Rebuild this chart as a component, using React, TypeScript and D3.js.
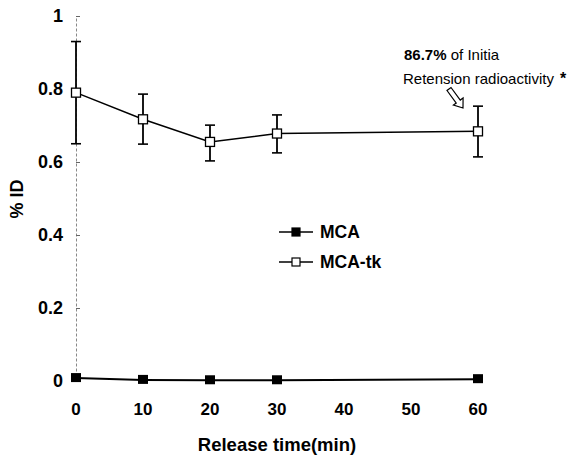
import { useEffect, useRef } from "react";
import * as d3 from "d3";

// release times (min)
const times = [0, 10, 20, 30, 60];
// %ID values
const mcaValues = [0.008, 0.003, 0.002, 0.002, 0.005];
const mcaTkValues = [0.79, 0.717, 0.655, 0.678, 0.684];
const mcaTkErrUp = [0.14, 0.069, 0.046, 0.051, 0.069];
const mcaTkErrDown = [0.14, 0.068, 0.052, 0.053, 0.07];

const xTicks = [0, 10, 20, 30, 40, 50, 60];
const yTicks = [0, 0.2, 0.4, 0.6, 0.8, 1];
const seriesNames = ["MCA", "MCA-tk"];

const FONT = "Arial, 'Liberation Sans', sans-serif";

function App() {
  const ref = useRef<SVGSVGElement>(null);
  const width = 574,
    height = 457;

  useEffect(() => {
    const svg = d3.select(ref.current);
    svg.selectAll("*").remove();

    const x = d3.scaleLinear().domain([0, 60]).range([76, 478]);
    const y = d3.scaleLinear().domain([0, 1]).range([381, 16]);

    // y axis - faint broken line, ticks poke to the right
    const yAxis = svg
      .append("g")
      .attr("transform", "translate(" + x(0) + ",0)")
      .call(
        d3
          .axisLeft(y)
          .tickValues(yTicks)
          .tickSizeInner(-4)
          .tickSizeOuter(0)
          .tickPadding(13)
          .tickFormat((d: any) => (d === 0 ? "0" : d === 1 ? "1" : String(d)))
      );
    yAxis.select(".domain").attr("stroke", "#888").attr("stroke-dasharray", "3,2");
    yAxis.selectAll(".tick line").attr("stroke", "#666");
    yAxis
      .selectAll(".tick text")
      .attr("font-family", FONT)
      .attr("font-weight", "bold")
      .attr("font-size", 18)
      .attr("fill", "#000");

    // x tick labels (no visible axis line)
    svg
      .selectAll("text.xt")
      .data(xTicks)
      .enter()
      .append("text")
      .attr("class", "xt")
      .attr("x", (d) => x(d))
      .attr("y", 415)
      .attr("text-anchor", "middle")
      .attr("font-family", FONT)
      .attr("font-weight", "bold")
      .attr("font-size", 17)
      .text((d) => d);

    // axis titles
    svg
      .append("text")
      .attr("x", (x(0) + x(60)) / 2)
      .attr("y", 451)
      .attr("text-anchor", "middle")
      .attr("font-family", FONT)
      .attr("font-weight", "bold")
      .attr("font-size", 18.5)
      .text("Release time(min)");

    svg
      .append("text")
      .attr("transform", "translate(23,199) rotate(-90)")
      .attr("text-anchor", "middle")
      .attr("font-family", FONT)
      .attr("font-weight", "bold")
      .attr("font-size", 18)
      .text("% ID");

    const line = d3
      .line<number>()
      .x((d, i) => x(times[i]))
      .y((d) => y(d));

    // MCA-tk error bars
    const eb = svg.append("g");
    times.forEach((t, i) => {
      const top = y(mcaTkValues[i] + mcaTkErrUp[i]);
      const bot = y(mcaTkValues[i] - mcaTkErrDown[i]);
      eb.append("line").attr("x1", x(t)).attr("x2", x(t)).attr("y1", top).attr("y2", bot).attr("stroke", "#000").attr("stroke-width", 1.8);
      [top, bot].forEach((yy) =>
        eb.append("line").attr("x1", x(t) - 5).attr("x2", x(t) + 5).attr("y1", yy).attr("y2", yy).attr("stroke", "#000").attr("stroke-width", 1.6)
      );
    });

    // lines
    svg.append("path").attr("d", line(mcaTkValues)).attr("fill", "none").attr("stroke", "#000").attr("stroke-width", 1.5);
    svg.append("path").attr("d", line(mcaValues)).attr("fill", "none").attr("stroke", "#000").attr("stroke-width", 2);

    // markers
    svg
      .selectAll("rect.tk")
      .data(mcaTkValues)
      .enter()
      .append("rect")
      .attr("class", "tk")
      .attr("x", (d, i) => x(times[i]) - 4.5)
      .attr("y", (d) => y(d) - 4.5)
      .attr("width", 9)
      .attr("height", 9)
      .attr("fill", "#fff")
      .attr("stroke", "#000")
      .attr("stroke-width", 1.3);

    svg
      .selectAll("rect.mca")
      .data(mcaValues)
      .enter()
      .append("rect")
      .attr("class", "mca")
      .attr("x", (d, i) => x(times[i]) - 5)
      .attr("y", (d) => y(d) - 5)
      .attr("width", 10)
      .attr("height", 9)
      .attr("fill", "#000");

    // legend
    const lg = svg.append("g");
    seriesNames.forEach((name, i) => {
      const ly = 232 + i * 30;
      lg.append("line").attr("x1", 279).attr("x2", 313).attr("y1", ly).attr("y2", ly).attr("stroke", "#000").attr("stroke-width", 1.5);
      lg.append("rect")
        .attr("x", 292)
        .attr("y", ly - 4)
        .attr("width", 8)
        .attr("height", 8)
        .attr("fill", i === 0 ? "#000" : "#fff")
        .attr("stroke", "#000")
        .attr("stroke-width", 1.2);
      lg.append("text")
        .attr("x", 320)
        .attr("y", ly + 6)
        .attr("font-family", FONT)
        .attr("font-weight", "bold")
        .attr("font-size", 17.5)
        .text(name);
    });

    // annotation
    const t1 = svg.append("text").attr("x", 404).attr("y", 60).attr("font-family", FONT).attr("font-size", 15);
    t1.append("tspan").attr("font-weight", "bold").text("86.7%");
    t1.append("tspan").text(" of Initia");
    svg.append("text").attr("x", 403).attr("y", 84).attr("font-family", FONT).attr("font-size", 15).text("Retension radioactivity");
    svg.append("text").attr("x", 560).attr("y", 84).attr("font-family", FONT).attr("font-weight", "bold").attr("font-size", 16).text("*");

    // hollow arrow pointing to the 60 min point
    const ax0 = 449,
      ay0 = 89,
      ax1 = 463,
      ay1 = 108;
    const ang = Math.atan2(ay1 - ay0, ax1 - ax0);
    const len = Math.hypot(ax1 - ax0, ay1 - ay0);
    const pts: [number, number][] = [
      [0, -2.5],
      [len - 8, -2.5],
      [len - 8, -6],
      [len, 0],
      [len - 8, 6],
      [len - 8, 2.5],
      [0, 2.5],
    ];
    svg
      .append("polygon")
      .attr("points", pts.map((p) => p.join(",")).join(" "))
      .attr("transform", "translate(" + ax0 + "," + ay0 + ") rotate(" + (ang * 180) / Math.PI + ")")
      .attr("fill", "#fff")
      .attr("stroke", "#000")
      .attr("stroke-width", 1.2);
  });

  return (
    <svg
      ref={ref}
      width={width}
      height={height}
      style={{ position: "absolute", left: 0, top: 0, background: "#fff" }}
    />
  );
}

export default App;
